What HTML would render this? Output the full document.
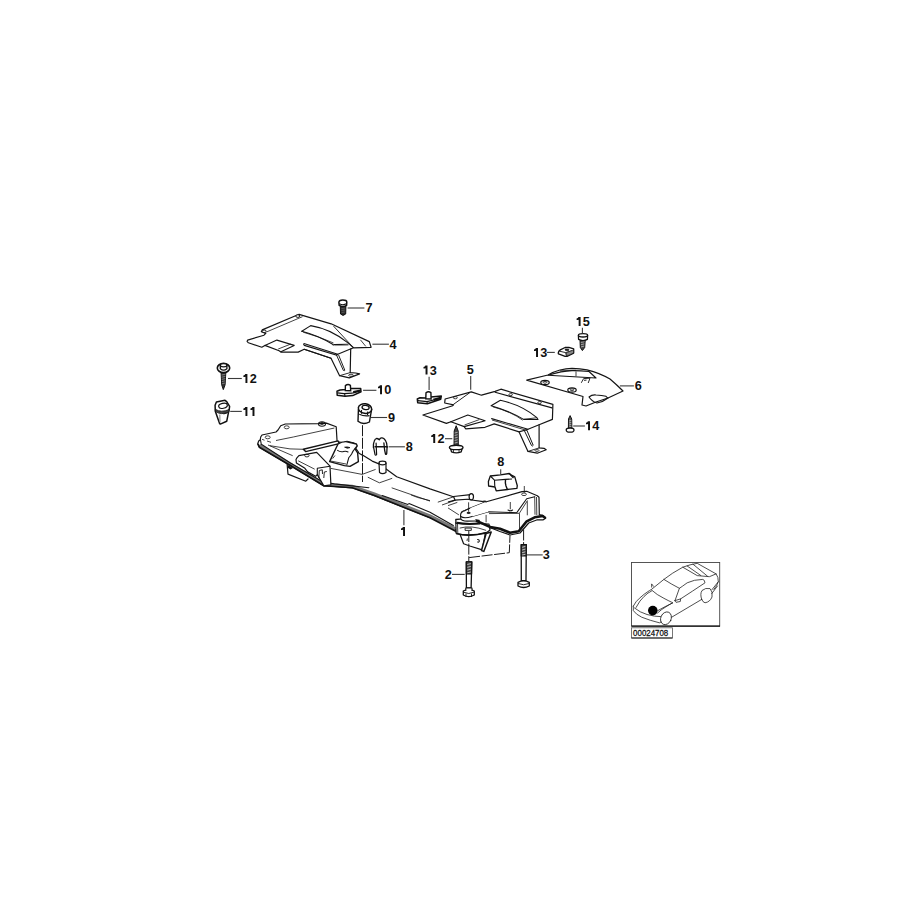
<!DOCTYPE html>
<html><head><meta charset="utf-8">
<style>
html,body{margin:0;padding:0;background:#fff;width:900px;height:900px;overflow:hidden}
svg{display:block}
.l{fill:none;stroke:#151515;stroke-width:1.1;stroke-linejoin:round;stroke-linecap:round}
.f{fill:#fff;stroke:#151515;stroke-width:1.2;stroke-linejoin:round}
.t{fill:none;stroke:#111;stroke-width:0.8}
.th{fill:none;stroke:#111;stroke-width:2;stroke-linejoin:round}
.ld{fill:none;stroke:#3a3a3a;stroke-width:1.1}
.d{fill:none;stroke:#1a1a1a;stroke-width:1;stroke-dasharray:11 1.6}
text{font-family:"Liberation Sans",sans-serif;font-weight:bold;font-size:12.7px;fill:#111}
</style></head><body>
<svg width="900" height="900" viewBox="0 0 900 900">
<defs><path id="one" d="M2.7,-9 L4.8,-9 L4.8,0 L2.85,0 L2.85,-6.3 Q2,-6.05 0.8,-6 L0.8,-7.5 Q2.4,-7.6 2.7,-9 Z"/></defs>


<!-- ===== PART 1 subframe ===== -->
<g id="p1">
<path class="f" d="M257.7,443.7 L258.7,441 L260.3,439.7 L260.7,437 L262,435 L276,432 L278,430 L280.7,425.7 L285.3,424 L318.4,423.6 L326.4,423.1 L336.2,426.7 L337.1,441.8 L343.3,442.7 L346.9,441.3 L354,443.1 L356.7,445.3 L355.8,448.4 L358.4,452 L358.9,453.3 L363.3,455.6 L372.2,461.1 L378.9,463.9 L386.1,468.9 L396.7,476.7 L430,488.9 L453.3,496.7 L471.7,500 L481.7,501.3 L485.5,502 L522,491.7 L526.7,491.3 L537.3,495.7 L539,497.3 L539.3,514.7 L542.7,515.3 L545.7,518.3 L543.3,519.8 L537.3,519.8 L528.7,523 L520,533 L510,535 L500,531.5 L490.3,527.8 L486.9,530.9 L456.3,532.6 L455.8,529.8 L448,524.8 L430,517.8 L374.4,495.6 L352.2,487.8 L330.9,486.2 L323.8,485.8 L290,465.3 L259.4,447.2 Z"/>
<path d="M259.2,445.5 L290,463.8 L323.5,484 L331,484.8 L352,486.3 L374.4,494 L430,516 L455.5,529" fill="none" stroke="#777" stroke-width="3.2" stroke-linejoin="round"/>
<path class="th" style="stroke-width:1.6" d="M257.9,443.9 L259.4,447.2 L290,465.3 L323.8,485.8 L330.9,486.2 L352.2,487.8 L374.4,495.6 L430,517.8 L456.7,531.7"/>
<path class="l" d="M260.5,440 L261.3,444.3 L290,462.7 L323,482 L334.4,483.9 L368.9,487.8"/>
<path class="l" d="M382.2,495.6 L407.8,504.4 L409,503.6 L430,512.2 L453.3,525.6"/>
<path class="t" d="M411.1,495 L417.8,497.5 L430,500.6 M391.7,487.8 L430,501.1"/>
<path class="t" d="M262,439.3 L264.5,440.2 M267,441 L271,442.3 M268,445 L292.7,455.7 M270,445.7 L290,448.9 L303.3,449.3 M276,440.5 L293.3,437 L306,434.2 L334.4,428"/>
<ellipse class="t" cx="267.7" cy="437.3" rx="2.5" ry="1.5"/>
<ellipse class="t" cx="286.7" cy="427.3" rx="2.5" ry="1.5"/>
<ellipse class="l" cx="322" cy="424" rx="3.5" ry="2.2"/>
<ellipse class="t" cx="322" cy="423.5" rx="1.8" ry="1"/>
<path class="f" d="M303.3,449.3 L338,440.9 L339.3,443.6 L305.6,451.6 Z" style="stroke-width:1.4"/>
<!-- front block -->
<path class="f" d="M296.7,458.2 L298.9,455.6 L316.7,452.4 L330,466.2 L330.9,484.9 L323.8,485.8 L317.3,474.6 L315.6,476.3 L307.6,471.9 L304.9,468.3 L296.4,463 L296,459.5 Z"/>
<path class="l" d="M317.3,474.6 L317.3,468.3 L330,466.2"/>
<path class="t" d="M298.2,460.8 L314.7,469.2"/>
<ellipse cx="306.9" cy="455.6" rx="2.2" ry="1.3" fill="none" stroke="#111" stroke-width="0.9"/>
<path class="t" d="M318.8,478 L319.3,470.5 L322.3,469.8 L322.5,474 M323.8,478 L324.3,472 L326.8,471.5" style="stroke-width:0.9"/>
<!-- mount block -->
<path class="f" d="M329.6,461.6 L338,444 Q342,441.5 346,441.6 L356.4,444 L357.2,446 L355,448.8 L357.6,452.8 L358.4,461.6 L350,466.4 L344.4,465.6 Z" style="stroke-width:1.4"/>
<path class="l" d="M337.6,450.4 Q340,452.2 343.2,451.6 Q346,450.6 348,452 M354.8,448.8 Q353,450.5 351.6,454 Q350,456.5 348.8,457.6 L346.8,464.8"/>
<path class="t" d="M330.5,461 L346,464 M335,455.5 L332.6,458.6"/>
<path d="M344.6,447.2 Q347,446.4 350,447.6 Q347.5,449 344.6,447.2 Z" fill="#111" stroke="#111" stroke-width="0.8"/>
<!-- lower bracket -->
<path class="l" d="M287.1,464.3 L288,474.1 L305.8,481.2 L308,479" style="stroke-width:1.2"/><path d="M287.3,464.5 L293,468 L290.5,469.5 L288,468 Z" fill="#111"/>
<!-- beam details -->
<path class="t" d="M330.9,468.4 L362.2,474.4 L375.6,469.4 M367.8,477.2 L379.4,482.8 L392.2,478.3"/>
<path class="t" d="M437.8,502.2 L453,497 M442,505 L456,500"/>
<!-- pin -->
<path class="f" d="M379,463 L379.5,472.5 Q382.5,474.8 386,472.5 L386,463 Z"/>
<ellipse class="f" cx="382.5" cy="463" rx="3.5" ry="1.8"/>
<!-- horizontal bolt -->
<path class="f" d="M453.5,496.5 L470.5,494.6 L470.8,499 L455,500.1 Z"/>
<ellipse class="f" cx="471.3" cy="496.8" rx="2.2" ry="3.1"/>
<path class="th" d="M455,500.1 L448,502" style="stroke-width:1.2"/>
<ellipse cx="484.5" cy="501.6" rx="2.2" ry="1.2" fill="#222"/>
<!-- right arm -->
<path class="l" d="M462,511.8 L469.8,508.3 L485.5,502"/>
<path class="l" d="M472.1,516.4 L488.4,511.8 L516.7,512.7 L526.7,498.7 L534.7,496.7"/>
<path class="t" d="M489,513.6 L519.3,513.3 L527.5,500.5 M534.7,496.7 L535,514.7 M527.3,501.3 V515.3 M519.5,513.3 V529.3 M486.1,514.9 V522.3 M536.5,497 L536.8,515"/>

<path class="t" d="M448,507.9 L458.9,514.9 M448,505.6 L457.3,502.4"/>
<ellipse class="t" cx="524" cy="494.3" rx="2.4" ry="1.3"/>
<path class="t" d="M524.3,486 V492.7"/>
<path class="l" d="M508,510 Q510.3,511.5 512.6,510"/>
<path class="t" d="M510.3,502 V509.3"/>
<!-- pivot + mount -->
<path class="f" d="M460,534.3 L463.6,543.7 L469.8,546 L482.2,549.9 L485.3,533.5 Z"/>
<path class="f" d="M486.1,533.5 L491.2,532 L483.8,551.4 L481.5,550.5 Z" style="stroke-width:1.5"/>
<path class="f" d="M455.8,522.7 L456.2,533.5 Q470,537 486.8,532.5 L490,530 L489,524 Z"/>
<path class="th" d="M456.2,533.5 Q470,537 486.8,532.5" style="stroke-width:1.8"/>
<path class="t" d="M459.7,528.1 Q471.3,524.8 486.1,530.4"/>
<path class="f" d="M465.1,528.1 L471.3,528.1 L471.3,530.4 L465.1,530.4 Z" style="stroke-width:0.9"/>
<path class="t" d="M457.5,523.5 L457.8,533.3"/>
<path class="f" d="M455.8,519.5 Q466,517.8 479.1,520.5 L479.5,523.8 Q466,525 456,523 Z" style="stroke-width:1.3"/>
<path d="M457,522.5 Q466,524.3 478.8,523.2" stroke="#111" stroke-width="1.4" fill="none"/>
<path class="f" d="M460.6,515 Q460.2,511.4 465.1,510.6 L469.8,508.3 L485.5,502 L488.4,511.8 L472.1,516.4 L476.8,521 L467.4,521.1 Q461,520.5 460.8,518.8 Z" style="stroke:none"/>
<path class="l" d="M460.6,516 Q460.2,511.4 465.1,510.6 L469.8,508.3"/>
<path class="l" d="M460.6,516 L460.8,518.8 Q462,521.2 467.4,521.1 L476.8,521"/>
<path class="l" d="M460.8,516.5 Q464,519 472.1,516.4"/>
<path class="th" d="M476,520.6 L490.3,527 L500,528.7 L510,532.7 L518.7,531.3 L526.7,521.3 L534.7,517.3 L542.7,516 L545.7,518.3" style="stroke-width:2.6"/>
<ellipse cx="468.6" cy="512.9" rx="2" ry="1.1" fill="#222"/>
<path class="t" d="M468.6,502.3 V511.7"/>
<path class="t" d="M467.4,538.5 L467,541"/>
<path d="M477.2,539.5 Q479.6,539.2 479.2,541.5 Q478,543 477.5,541.6" stroke="#111" stroke-width="1.1" fill="none"/>
</g>

<!-- ===== PART 4 cover ===== -->
<g id="p4">
<path class="f" d="M299.1,314.3 L331.1,323.8 L369.3,341.6 L371.1,347.3 L353.3,347.8 L350.7,349 L350.2,372.6 L355.6,373 L359.6,373.9 L349.3,377.9 L339.6,375.7 L331,358.2 L304.2,349.3 L298.2,352.1 L280.9,352.1 L279.1,350.8 L264.9,345.4 L261.8,347.2 L248.4,342.8 L247.1,341.4 L247.6,340.1 L264,335.2 L265.8,333.4 L261.3,331.7 L262.2,329.9 Z"/>
<path class="l" d="M266.7,331.9 L302.2,316.8" style="stroke-width:0.8"/>
<ellipse cx="297.8" cy="316.1" rx="2" ry="1.3" fill="#fff" stroke="#111" stroke-width="1"/>
<ellipse cx="264.2" cy="331.3" rx="2" ry="1.3" fill="#fff" stroke="#111" stroke-width="1"/>
<path class="l" d="M264.9,345.4 L276.9,340.1 L294.2,345.4 L280.9,351.7"/>
<path class="t" d="M278.2,349 L290.7,344.1"/>
<path class="l" d="M301.8,331.3 L310.7,325.6 Q331,329 348,342.9 L353.3,347.5"/>
<path class="l" d="M301.8,331.3 Q318,335.5 332.6,344.3 Q333.2,345.6 334,344.6 L348,344.2"/>
<path class="t" d="M303.2,332.2 Q319,336.5 333.5,343" style="stroke-width:0.8"/>
<path d="M334.5,345.6 L348.5,345.3" stroke="#999" stroke-width="1"/>
<path class="l" d="M333.8,326.4 L353.3,347.5" style="stroke-width:0.9"/>
<path class="t" d="M360.4,339.8 L365.8,346.4"/>
<path class="l" d="M304,343.5 Q303.2,344.6 304.3,345.4 L336.8,355.2 L337.8,354.2 L303.9,343.6"/>
<path class="l" d="M304.2,349.3 L331,358.2"/>
<path class="l" d="M337.8,354.2 L351.6,348.6"/>
<path class="l" d="M336.4,354.8 L343.3,370.3 Q344.2,371.5 344.8,370.2 L338.7,355.3" style="stroke-width:0.95"/>
<path class="l" d="M339.6,375.7 L350.2,372.6" style="stroke-width:0.9"/>
<ellipse cx="351" cy="375.3" rx="2.4" ry="1" fill="none" stroke="#111" stroke-width="0.8"/>
</g>

<!-- bolt 7 -->
<g>
<path d="M340.3,306.2 L340.5,314 Q343,316.8 345.7,314 L345.9,306.2 Z" fill="#2a2a2a" stroke="#111" stroke-width="1"/>
<path d="M341.5,308.5 L344.8,308.1 M341.5,310.5 L344.8,310.1 M341.6,312.5 L344.7,312.1" stroke="#777" stroke-width="0.6"/>
<path d="M338.9,302.3 Q339,299.9 342.8,299.9 Q346.9,299.9 346.8,302.3 L346.6,305.3 Q343,307.8 339.2,305.3 Z" fill="#fff" stroke="#111" stroke-width="1.5"/>
<path d="M339.4,303.8 Q343,305.6 346.4,303.8" fill="none" stroke="#111" stroke-width="1.1"/>
</g>
<path class="ld" d="M347.6,308 H364.4"/>
<text x="365.4" y="311.8">7</text>
<path class="ld" d="M372.4,344.2 H388.9"/>
<text x="389.4" y="348.7">4</text>

<!-- part 10 clip nut -->
<g>
<path d="M337,391.3 L340,390 L345.5,389.6 L350.8,388.6 L360.7,388.5 L361,391.7 L352.7,395.6 L345,396.2 L337.2,395.2 Z" fill="#fff" stroke="#111" stroke-width="1.5" stroke-linejoin="round"/>
<path d="M337.5,392.8 L344,393.6 L352,393.2 L360.6,390.2 M345,396 L344.5,393.5" fill="none" stroke="#111" stroke-width="1.2"/>
<path d="M353,391 L360.5,389.5 L360.8,391.5 L353.5,393.5 Z" fill="#111"/>
<path d="M345.3,390.5 L345.4,385.6 Q347.8,383.6 350.4,385.3 L350.7,390.8 Z" fill="#fff" stroke="#111" stroke-width="1.4"/>
</g>
<path class="ld" d="M363.1,390.3 H376.4"/>
<use href="#one" fill="#111" transform="translate(377.2 394.3)"/><text x="384.26" y="394.3">0</text>

<!-- screw 12 left -->
<g>
<path d="M221.1,372.5 L221.7,384.8 L223.3,389.6 L225.1,384.8 L225.8,372.5 Z" fill="#333" stroke="#111" stroke-width="1"/>
<path d="M221.6,375 L225.5,374.2 M221.6,377.2 L225.4,376.4 M221.7,379.4 L225.3,378.6 M221.8,381.6 L225.2,380.8 M221.9,383.8 L225.1,383" stroke="#999" stroke-width="0.7"/>
<ellipse cx="223.5" cy="368" rx="6.2" ry="4.6" fill="#fff" stroke="#111" stroke-width="1.6"/>
<path d="M220.3,365.3 L220.3,368.8 Q223.6,371.6 226.9,368.8 L226.9,365.3" fill="#fff" stroke="#111" stroke-width="1.3"/>
<ellipse cx="223.6" cy="365.2" rx="3.3" ry="1.6" fill="#fff" stroke="#111" stroke-width="1.3"/>
</g>
<path class="ld" d="M228,378.5 H241.8"/>
<use href="#one" fill="#111" transform="translate(242.6 383.0)"/><text x="249.66" y="383.0">2</text>

<!-- part 11 -->
<g>
<path d="M215.1,405.3 L216.4,402 L225,400.3 L226.7,401.7 L229.6,406.3 L229.2,409.5 L228.5,412.4 L226.7,421.3 L220.3,424.1 L219.6,423.4 L215.3,411.3 Z" fill="#fff" stroke="#111" stroke-width="1.5" stroke-linejoin="round"/>
<ellipse cx="223" cy="405.8" rx="4.4" ry="2.5" transform="rotate(-12 223 405.8)" fill="#fff" stroke="#111" stroke-width="1.2"/>
<path d="M215.3,409.2 Q221,413 229.2,409.5 L228.8,412 Q221,415.5 215.5,411.5 Z" fill="#444" stroke="#111" stroke-width="0.8"/>
<path d="M219.8,414.5 L220,422.3" stroke="#888" stroke-width="1.1"/>
<path d="M223.5,414 L227.5,412.8" stroke="#111" stroke-width="0.9"/>
</g>
<path class="ld" d="M230.2,411.4 H241.8"/>
<use href="#one" fill="#111" transform="translate(242.6 416.0)"/><use href="#one" fill="#111" transform="translate(249.66 416.0)"/>

<!-- part 9 bushing -->
<g>
<path d="M358.4,410 L358,421.3 Q363,425.4 369.4,422 L371.6,409.5 Z" fill="#fff" stroke="#111" stroke-width="1.4"/>
<ellipse cx="365" cy="408.6" rx="6.7" ry="4.8" transform="rotate(8 365 408.6)" fill="#fff" stroke="#111" stroke-width="1.5"/>
<ellipse cx="365.6" cy="407.5" rx="3.6" ry="2.1" transform="rotate(10 365.6 407.5)" fill="#fff" stroke="#111" stroke-width="1.3"/>
<path d="M359.3,414.3 Q364,416.5 369.5,415.6 M361.5,410 L361.6,413.8 M367.7,411.5 L367.5,415" fill="none" stroke="#111" stroke-width="1.1"/>
</g>
<path class="ld" d="M370.8,417.5 H387.1"/>
<text x="388" y="421.7">9</text>
<path class="d" d="M362.5,425.2 V482"/>

<!-- part 8 clip left -->
<g fill="none" stroke="#111" stroke-linejoin="round" stroke-linecap="round">
<path d="M373.4,447.5 Q373.3,443 374.2,441.2 Q375,439 376.4,438.5 Q378,438.5 379.3,439.8 Q380.2,437.8 381.6,437.9 Q383,437.8 383.8,438.6 Q386,440.5 386.6,443.2 L387.1,447" stroke-width="1.3"/>
<path d="M373.6,447.3 L375,454.4 Q375.6,455.6 376.6,454.6 L376.4,450 L376.1,443.2" stroke-width="1.2"/>
<path d="M383.9,443 L384.6,450 L385.5,454.2 Q386.4,454.8 386.7,453.6 L387.1,447" stroke-width="1.3"/>
<path d="M375,446.8 L387,446.8" stroke-width="1.4"/>
</g>
<path class="ld" d="M388.6,446.8 H404.9"/>
<text x="405.8" y="451">8</text>

<!-- ===== PART 5 cover ===== -->
<g id="p5">
<path class="f" d="M471.3,391.9 L481.5,395.2 L495.1,391.4 L500.9,389.2 L552.9,404.3 L552.4,419.4 L539.1,424.8 L539.1,447.9 L544,448.3 L546.2,449.7 L537.3,453.2 L528,451.4 L519.1,431.9 L494.2,423.9 L485,427.3 L465.6,428.8 L464.2,426.6 L450.9,421.7 L446.4,423.4 L422.9,415 L452.7,405.7 L453.6,404.8 L444.7,403 L445.1,399 Z"/>
<path class="l" d="M469.6,392.8 L453.6,404.3" style="stroke-width:0.95"/>
<ellipse class="t" cx="455.3" cy="397.7" rx="2" ry="1.1"/>
<path class="l" d="M450.9,421.7 L467.8,415 L485.1,420.8 L464.2,426.6"/>
<path class="t" d="M464.5,425 L479.3,419.6"/>
<path class="l" d="M495.1,392.3 L552,407.9"/>
<ellipse class="t" cx="510.7" cy="394.6" rx="1.8" ry="1"/>
<ellipse class="t" cx="539.6" cy="402.6" rx="1.8" ry="1"/>
<path class="l" d="M491.1,405.7 L500.4,400.3 Q522,405 536.9,417.7 L538,419.5 L523.6,419.4 Q510,411 491.1,405.7"/>
<path class="t" d="M492.8,406.8 Q512,412 522.7,420.2 M523.6,419.4 L536.9,417.7"/>
<path class="l" d="M491.6,418.6 L528,429.2"/>
<path class="t" d="M492,420 L527,430.5"/>
<path class="l" d="M539.1,424.8 L528,429.2 L519.1,431.9"/>
<path class="l" d="M524.2,430.3 L531.5,445.5 Q532.6,446.6 533.2,445.3 L527,430.5" style="stroke-width:1"/>
<path class="l" d="M528,451.4 L539.1,447.9" style="stroke-width:0.9"/><ellipse cx="537" cy="450.5" rx="2" ry="0.9" fill="none" stroke="#111" stroke-width="0.8"/>
</g>
<!-- 13 left -->
<g>
<path d="M417.3,399 L420,397.8 L425.7,398 L431,397 L441.3,396 L440.7,399.3 L427.3,403.7 L417.7,402.7 Z" fill="#fff" stroke="#111" stroke-width="1.5" stroke-linejoin="round"/>
<path d="M417.8,400.6 L427,401.6 L440.8,398.2 M427,401.6 L427.3,403.6" fill="none" stroke="#111" stroke-width="1.1"/>
<path d="M433,398.8 L441,396.4 L440.8,399 L434,401 Z" fill="#111"/>
<path d="M425.8,398.8 L426,392.8 Q428.4,390.8 430.9,392.6 L431.1,399 Z" fill="#fff" stroke="#111" stroke-width="1.4"/>
</g>
<path class="ld" d="M429.1,376.8 V390.1"/>
<use href="#one" fill="#111" transform="translate(422.7 374.6)"/><text x="429.76" y="374.6">3</text>
<path class="ld" d="M470.7,375.9 V389.7"/>
<text x="466.8" y="373.7">5</text>
<!-- 12 middle screw -->
<g stroke="#111" stroke-linejoin="round">
<path d="M454,446.3 L454.2,431 L456.2,425.7 L458.2,431 L458.3,446.3 Z" fill="#444" stroke-width="1"/>
<path d="M454.6,433 L457.8,432.2 M454.6,435.5 L457.8,434.7 M454.6,438 L457.8,437.2 M454.6,440.5 L457.8,439.7 M454.6,443 L457.8,442.2" stroke="#ccc" stroke-width="0.7" fill="none"/>
<path d="M450.7,449 L451.5,451.8 Q456.3,453.8 461.2,451.8 L462,449 Z" fill="#fff" stroke-width="1.3"/>
<ellipse cx="456.2" cy="447.4" rx="6.8" ry="2.2" fill="#fff" stroke-width="1.4"/>
<path d="M453.5,449.8 V452.5 M459,449.8 V452.5" fill="none" stroke-width="0.8"/>
</g>
<path class="ld" d="M445,438.7 H452.3"/>
<use href="#one" fill="#111" transform="translate(430.4 443.0)"/><text x="437.46" y="443.0">2</text>


<!-- ===== PART 6 ===== -->
<g id="p6">
<path class="f" d="M526.7,380.1 L548,375 Q554,371.5 560,370 Q566,368.4 572,368.4 Q580,368.6 587,369.8 Q600,373 610,379 Q617,385 623,391 L608,398 L596,402 L586,406 L582,405 L583,396.5 Z"/>
<path class="l" d="M548,375.2 L596,378 L589,371.5 Q580,370.5 572,370.6 Q562,371 548,375.2"/>
<path class="t" d="M576,371.5 V376.2 M560,370.8 L576,370.3"/>
<path class="t" d="M581.3,382.8 L583.6,378.6 L590,378.2 L588.2,383 M584,380.3 L586.5,380.1" style="stroke-width:0.9"/>
<ellipse cx="545" cy="382.5" rx="4.2" ry="2.1" fill="#fff" stroke="#111" stroke-width="1.2"/>
<ellipse cx="545" cy="382.3" rx="1.8" ry="0.9" fill="none" stroke="#111" stroke-width="0.8"/>
<ellipse cx="572" cy="390" rx="4.2" ry="2.1" fill="#fff" stroke="#111" stroke-width="1.2"/>
<ellipse cx="572" cy="389.8" rx="1.8" ry="0.9" fill="none" stroke="#111" stroke-width="0.8"/>
<path class="l" d="M589,397 Q592,394.5 596,395 Q602,395.2 606,396.3 Q607,397.5 608,398 Q603,402 597,403 Q592,401.5 589,397 Z"/>
</g>
<path class="ld" d="M619.9,385.9 H633.9"/>
<text x="634.8" y="389.8">6</text>
<!-- 13 right -->
<g stroke="#111" stroke-linejoin="round">
<path d="M558.2,353.1 Q558.5,351 560.3,349.9 L565.1,347.5 L568.9,347.3 L573.7,348.9 L573.7,353.1 L567,356.3 L565.1,356.3 L558.5,353.9 Z" fill="#fff" stroke-width="1.3"/>
<path d="M559.5,351.2 L565.7,352.6 L572.3,350.5 M565.7,352.6 L566.4,356" fill="none" stroke-width="0.9"/>
<path d="M566.3,352.8 L573.5,350 L573.5,353 L567,356 Z" fill="#888" stroke-width="0.6"/>
<path d="M565.1,349.1 L568.9,349.3 L568.5,350.7 L565.5,350.5 Z" fill="#111" stroke-width="0.6"/>
</g>
<path class="ld" d="M546.8,352.4 H554.8"/>
<use href="#one" fill="#111" transform="translate(533.2 357.1)"/><text x="540.26" y="357.1">3</text>
<!-- 15 screw -->
<g stroke="#111" stroke-linejoin="round">
<path d="M580,340.4 L580.3,347.5 L582.4,350.6 L584.7,347.5 L585.2,340.4 Z" fill="#444" stroke-width="1"/>
<path d="M580.8,342.5 L584.5,341.7 M580.9,344.7 L584.4,343.9 M581,346.9 L584.3,346.1" stroke="#ccc" stroke-width="0.7" fill="none"/>
<path d="M578.4,335.5 L578.6,339.4 Q583,341.8 587.4,339.4 L587.6,335.5 Z" fill="#fff" stroke-width="1.3"/>
<ellipse cx="583" cy="335.3" rx="4.6" ry="1.7" fill="#fff" stroke-width="1.3"/>
</g>
<path class="ld" d="M582.4,327.8 V333.4"/>
<use href="#one" fill="#111" transform="translate(575.8 326.0)"/><text x="582.86" y="326.0">5</text>
<!-- 14 screw -->
<g stroke="#111" stroke-linejoin="round">
<path d="M568.4,429 L568.5,419 L570.1,415.6 L571.7,419 L571.9,429 Z" fill="#555" stroke-width="1"/>
<path d="M568.9,421 L571.4,420.3 M568.9,423 L571.4,422.3 M568.9,425 L571.4,424.3 M568.9,427 L571.4,426.3" stroke="#ddd" stroke-width="0.6" fill="none"/>
<path d="M566.2,430 Q566.3,432.4 570.1,432.2 Q574,432.4 574,430 Q574,428 570.1,428 Q566.2,428 566.2,430 Z" fill="#fff" stroke-width="1.3"/>
</g>
<path class="ld" d="M573.2,426 H584.9"/>
<use href="#one" fill="#111" transform="translate(585.2 430.2)"/><text x="592.26" y="430.2">4</text>

<!-- 8 right -->
<g stroke="#111" stroke-linejoin="round">
<path d="M490.3,476 L500.5,474.8 L509.3,473.5 L511.4,475.2 L514.8,476.9 L517.3,485.7 L516.9,488.3 L507.6,489.5 L496.2,490.8 L495,487 L488.6,486 L488.4,481.5 Z" fill="#fff" stroke-width="1.3"/>
<path d="M490.3,476 L494.5,480.2 L494.8,486.5 M494.5,480.2 L505.5,479.4 L512,479" fill="none" stroke-width="1.1"/>
<path d="M505.5,479.4 Q505,483 506,486 L507.4,489.4" fill="none" stroke-width="1.4"/>
<path d="M509.3,473.5 L513.5,478" fill="none" stroke-width="1.3"/>
</g>
<path class="ld" d="M500.7,469.3 V474.5"/>
<text x="497.2" y="466.1">8</text>

<!-- bolts 2, 3 -->
<g stroke="#111" stroke-linejoin="round">
<path d="M466.3,561.8 L466.4,588 L471.1,588 L471.8,561.8 Z" fill="#fff" stroke-width="1.3"/>
<path d="M466.3,561.8 L471.8,561.8 L471.6,574 L466.3,574 Z" fill="#444" stroke-width="1.1"/>
<path d="M467.3,564.5 L470.8,563.6 M467.3,567.3 L470.8,566.4 M467.3,570.1 L470.8,569.2 M467.3,572.8 L470.8,572" stroke="#ddd" stroke-width="0.8" fill="none"/>
<path d="M463.3,591 L463.3,595 Q468.7,598.3 474.3,595 L474.3,591 Q468.7,588 463.3,591 Z" fill="#fff" stroke-width="1.3"/>
<path d="M463.5,592.2 Q468.7,594.8 474,592.2 M466,593.5 V597 M471.5,593.5 V597" fill="none" stroke-width="0.9"/>
<path d="M465.8,591 L465.8,588 L472,588 L472,591" fill="#fff" stroke-width="1.1"/>
</g>
<path class="ld" d="M452,574.4 H464.7"/>
<text x="444.8" y="579.3">2</text>
<g stroke="#111" stroke-linejoin="round">
<path d="M521.2,544.6 L521.3,580.6 L526,580.6 L526.3,544.6 Z" fill="#fff" stroke-width="1.3"/>
<path d="M521.2,544.6 L526.3,544.6 L526.2,556 L521.2,556 Z" fill="#444" stroke-width="1.1"/>
<path d="M522.1,547.3 L525.4,546.4 M522.1,550 L525.4,549.1 M522.1,552.7 L525.4,551.8 M522.1,555 L525.4,554.3" stroke="#ddd" stroke-width="0.8" fill="none"/>
<path d="M518,582.3 L518,586 Q523.6,589 529.3,586 L529.3,582.3 Q523.6,579.5 518,582.3 Z" fill="#fff" stroke-width="1.3"/>
<path d="M518.2,583.5 Q523.6,586 529,583.5" fill="none" stroke-width="0.9"/>
</g>
<path class="ld" d="M526.7,554.9 H542.7"/>
<text x="542.8" y="559.3">3</text>
<path class="d" d="M468.8,531 V561.5 M469.1,557.6 L509.3,552.7 L510,535.3 M523.6,529.5 V544.5"/>
<path class="ld" d="M403.9,510 V525.3"/>
<use href="#one" fill="#111" transform="translate(400.2 536.0)"/>


<!-- ===== INSET ===== -->
<g id="inset">
<rect x="631.5" y="562.5" width="88.2" height="63.6" fill="none" stroke="#444" stroke-width="0.9"/>
<path d="M631.5,626.2 H720" stroke="#111" stroke-width="1.3"/>
<rect x="631.6" y="627.8" width="40.8" height="10.2" fill="none" stroke="#555" stroke-width="0.8"/><path d="M631.6,638 H672.4" stroke="#222" stroke-width="1.1"/>
<text x="633.1" y="635.8" transform="translate(633.1 0) scale(0.92 1) translate(-633.1 0)" style="font-weight:normal;font-size:8.6px;fill:#111;stroke:#111;stroke-width:0.25px">00024708</text>
<g fill="none" stroke="#222" stroke-width="0.8" stroke-linejoin="round" stroke-linecap="round">
<path d="M633.3,606.1 Q636,601 639.4,598.3 Q644,594 649.4,590.6 L651.5,589.4 L663.9,579.4 Q672,573 682.8,567.2 Q690,564.5 697.2,563.3 L716.1,573.9 Q718.5,577 718.3,581.7 Q717,586 713.9,589.4"/>
<path d="M633.3,606.1 L633.3,610.6 Q636,614.5 641.7,617.2 Q650,620.5 659.4,622.8 L661,622"/>
<path d="M634.5,608 Q640,612.5 647,614.5 Q655,616.8 660.5,616.6"/>
<path d="M636,607.5 Q640,600 644,596.5 Q648,592.5 651.5,591"/>
<path d="M651.5,590 Q657,595 663.9,598.3 Q668,600.5 672.8,602.8 Q669.5,604.5 668,605.5 Q661,609.5 657.5,613"/>
<path d="M658,610.5 Q665,606.5 672.5,603"/>
<path d="M663.9,579.4 Q671,584 679.4,588.3 L675,600.6 L680.6,598.9 Q692,591.5 705,582.8 Q704.5,579.5 702.8,579.4 Q694,579.5 687.2,582.8 Q681.5,587 679.4,588.3"/>
<path d="M674.5,600.4 L676,602.3 L680.3,601.5 L680.6,598.9"/>
<path d="M682.8,567.2 L697.2,575.6 L709.4,576.7 L716.1,573.9 M687.2,566 L700.8,575.5 M693,564.2 L707.5,576.2"/>
<path d="M671.7,617.2 L701.7,599.4"/>
<path d="M701.7,599.4 Q699.8,594 702,590.5 Q705.5,587.5 710,588.6 Q713,591.5 712,597 Q710,602 705,602.8 Q702.5,602 701.7,599.4"/>
<path d="M712,589.6 L718.3,581.7 M711.8,593.5 L717.5,586"/>
<path d="M651.7,587.2 L651.6,583.9 L653.5,586.3"/>
<ellipse cx="666" cy="618.3" rx="5.2" ry="6.6" transform="rotate(25 666 618.3)"/>
</g>
<circle cx="652.8" cy="610.6" r="4.8" fill="#000"/>
</g>

</svg>
</body></html>
